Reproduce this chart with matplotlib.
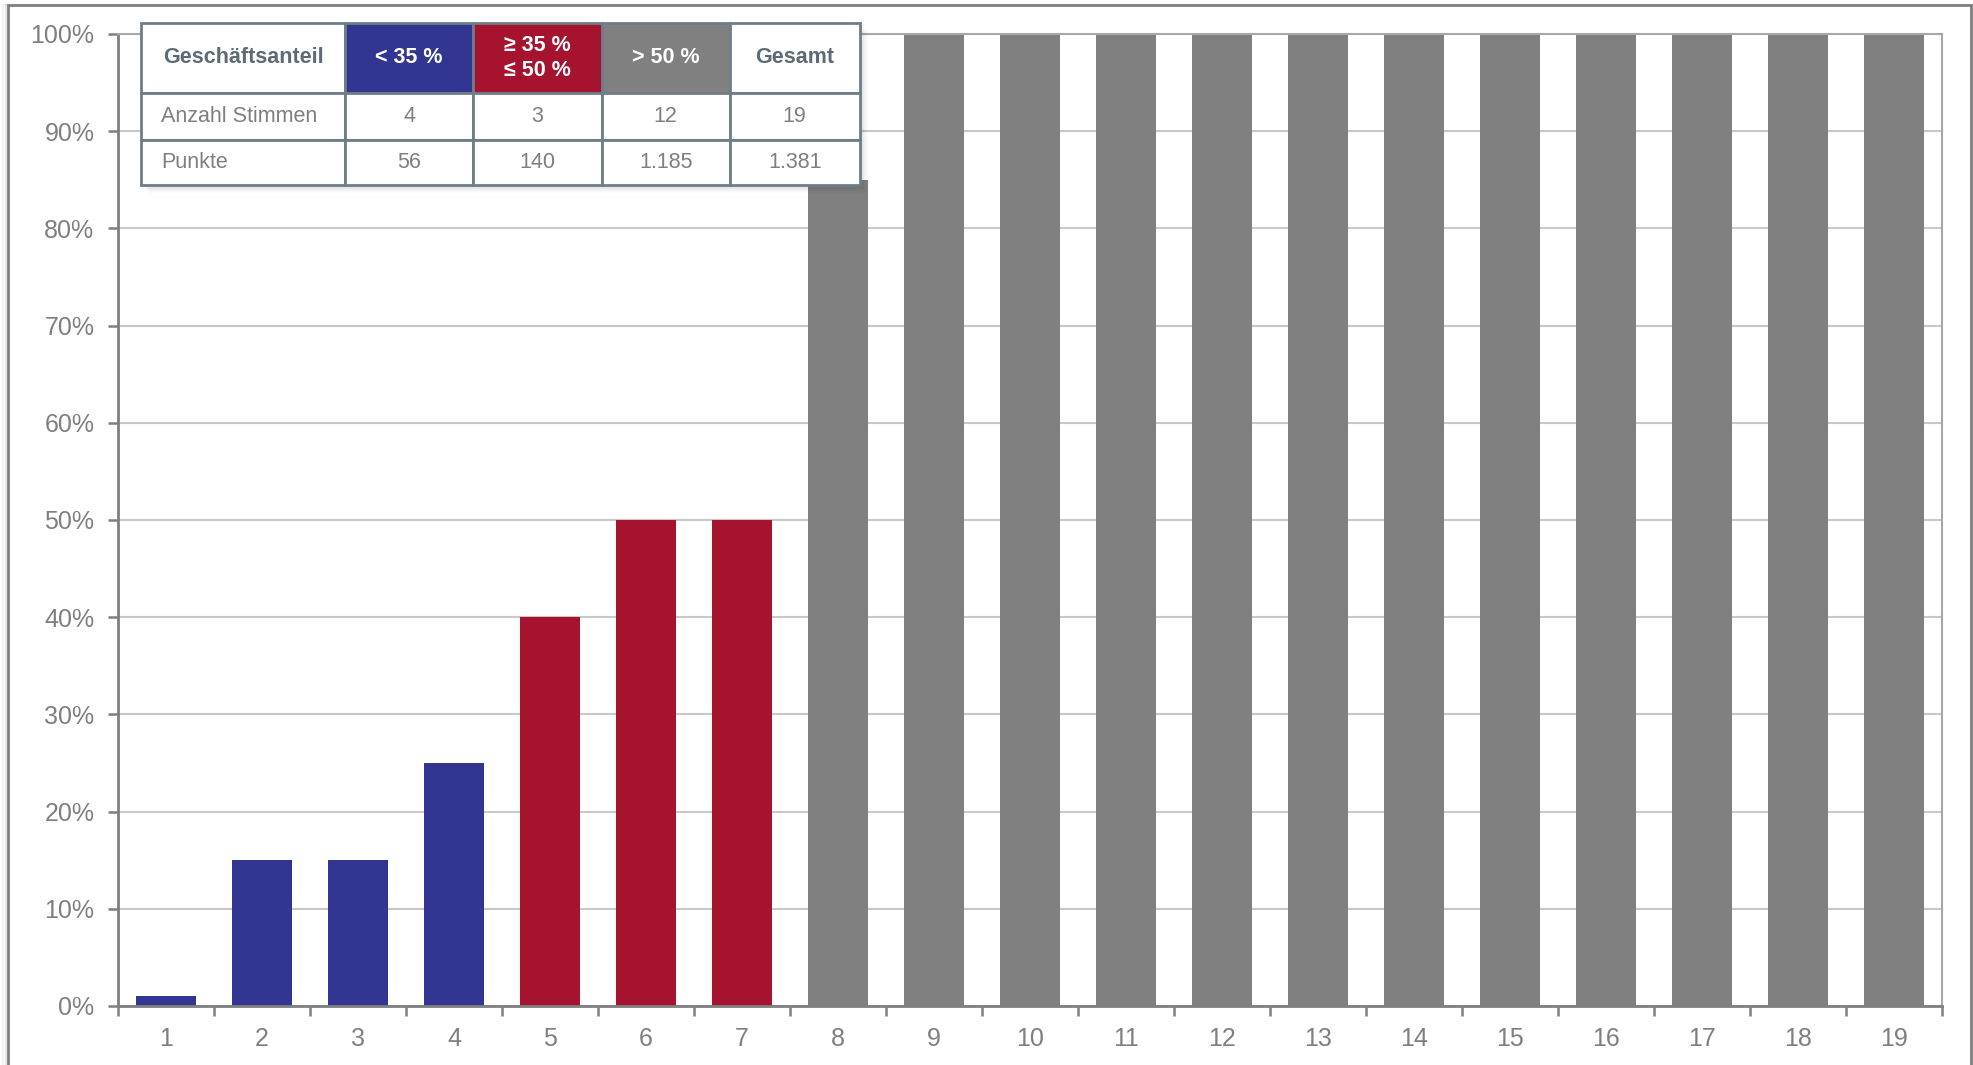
import matplotlib.pyplot as plt
import matplotlib.transforms as mtransforms
from matplotlib.patches import Rectangle

plt.rcParams["font.family"] = ["Liberation Sans", "DejaVu Sans"]

# data
bar_ids = list(range(1, 20))
shares = [1, 15, 15, 25, 40, 50, 50, 85, 100, 100, 100, 100, 100, 100, 100, 100, 100, 100, 100]
groups = ["low"] * 4 + ["mid"] * 3 + ["high"] * 12
group_colors = {"low": "#333592", "mid": "#A6132F", "high": "#7F807F"}

table_header = ["Geschäftsanteil", "< 35 %", "≥ 35 %\n≤ 50 %", "> 50 %", "Gesamt"]
table_rows = [
    ["Anzahl Stimmen", "4", "3", "12", "19"],
    ["Punkte", "56", "140", "1.185", "1.381"],
]
header_fill = ["white", "#333592", "#A6132F", "#7F807F", "white"]

GRAY = "#7F7F7F"
EDGE = "#6E7D88"

fig = plt.figure(figsize=(19.74, 10.65), dpi=100)
ax = fig.add_axes([0.0598, 0.0554, 0.924, 0.9127])

ax.bar(bar_ids, shares, width=0.62, color=[group_colors[g] for g in groups], zorder=2)

ax.set_xlim(0.5, 19.5)
ax.set_ylim(0, 100)
ax.set_yticks(range(0, 101, 10))
ax.set_yticklabels([f"{v}%" for v in range(0, 101, 10)])
ax.set_xticks([i + 0.5 for i in range(0, 20)])
ax.set_xticklabels([])
ax.set_xticks(bar_ids, minor=True)
ax.set_xticklabels([str(i) for i in bar_ids], minor=True)
ax.tick_params(axis="x", which="major", length=7, width=1.8, color=GRAY)
ax.tick_params(axis="x", which="minor", length=0, pad=15, labelsize=18, labelcolor=GRAY)
ax.tick_params(axis="y", length=7, width=1.8, color=GRAY, pad=10, labelsize=18, labelcolor=GRAY)

ax.grid(axis="y", color="#C8C8C8", linewidth=1.5, zorder=0)
ax.set_axisbelow(True)
for side in ["left", "bottom"]:
    ax.spines[side].set_color(GRAY)
    ax.spines[side].set_linewidth(2)
for side in ["top", "right"]:
    ax.spines[side].set_color("#A8A8A8")
    ax.spines[side].set_linewidth(1.5)

# summary table
tbl_box = [0.0126, 0.8447, 0.394, 0.1667]
col_w = [0.284, 0.178, 0.179, 0.178, 0.181]
for k, a in enumerate([0.05, 0.04, 0.03, 0.02]):
    off = mtransforms.offset_copy(ax.transAxes, fig=fig, x=2 + k * 2, y=-(2 + k * 2), units="dots")
    ax.add_patch(Rectangle((tbl_box[0], tbl_box[1]), tbl_box[2], tbl_box[3], transform=off,
                           facecolor="black", alpha=a, edgecolor="none", zorder=4, clip_on=False))

tbl = ax.table(cellText=table_rows, colLabels=table_header, colWidths=col_w,
               cellLoc="center", bbox=tbl_box, zorder=6)
tbl.auto_set_font_size(False)
tbl.set_fontsize(15.5)
row_h = [70, 47, 45]
for (r, c), cell in tbl.get_celld().items():
    cell.set_height(row_h[r])
    cell.set_edgecolor(EDGE)
    cell.set_linewidth(2)
    cell.set_clip_on(False)
    txt = cell.get_text()
    if r == 0:
        cell.set_facecolor(header_fill[c])
        txt.set_fontweight("bold")
        txt.set_color("white" if header_fill[c] != "white" else "#5F6B74")
        txt.set_linespacing(1.25)
    else:
        cell.set_facecolor("white")
        txt.set_color(GRAY)
        if c == 0:
            cell._loc = "left"
            txt.set_horizontalalignment("left")

# outer frame with a faint left shadow
for k, a in enumerate([0.35, 0.2, 0.1]):
    fig.patches.append(Rectangle((0.004 - k * 0.0012, -0.02), 0.9945 + k * 0.0012, 1.0153,
                                 transform=fig.transFigure, fill=False,
                                 edgecolor="#808080", alpha=a if k else 1.0,
                                 linewidth=2 if k == 0 else 1.5))

fig.savefig("out.png", dpi=100)
